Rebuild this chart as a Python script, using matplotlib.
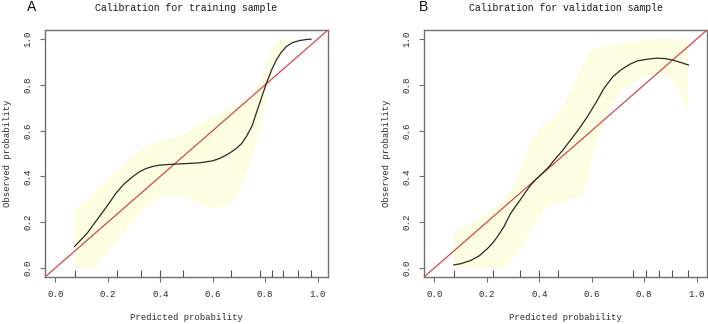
import numpy as np
import matplotlib
matplotlib.use("Agg")
import matplotlib.pyplot as plt

# ---- data ----
# training sample: smoothed calibration curve
train_x = [0.073, 0.12, 0.166, 0.20, 0.23, 0.26, 0.294, 0.32, 0.345, 0.37, 0.396,
           0.447, 0.498, 0.549, 0.60, 0.63, 0.651, 0.67, 0.69, 0.71, 0.728, 0.75,
           0.766, 0.785, 0.805, 0.825, 0.843, 0.86, 0.881, 0.905, 0.932, 0.955, 0.975]
train_y = [0.094, 0.15, 0.222, 0.275, 0.325, 0.365, 0.398, 0.42, 0.434, 0.443, 0.449,
           0.453, 0.456, 0.459, 0.468, 0.48, 0.493, 0.506, 0.522, 0.543, 0.573, 0.62,
           0.675, 0.74, 0.807, 0.866, 0.909, 0.94, 0.968, 0.985, 0.994, 0.998, 1.0]
# training confidence band
train_up_x = [0.073, 0.10, 0.15, 0.20, 0.25, 0.30, 0.35, 0.40, 0.45, 0.50, 0.55, 0.60,
              0.65, 0.70, 0.75, 0.78, 0.80, 0.82, 0.84, 0.86, 0.90, 0.975]
train_up_y = [0.25, 0.28, 0.335, 0.39, 0.445, 0.495, 0.535, 0.555, 0.57, 0.59, 0.63, 0.665,
              0.69, 0.715, 0.75, 0.81, 0.88, 0.94, 0.98, 1.0, 1.0, 1.0]
train_lo_x = [0.073, 0.10, 0.15, 0.20, 0.25, 0.30, 0.35, 0.40, 0.45, 0.50, 0.55, 0.60,
              0.65, 0.70, 0.75, 0.78, 0.80, 0.82, 0.84, 0.86, 0.88, 0.90, 0.93, 0.975]
train_lo_y = [0.0, 0.0, 0.005, 0.07, 0.14, 0.21, 0.27, 0.31, 0.32, 0.31, 0.28, 0.26,
              0.27, 0.33, 0.48, 0.60, 0.72, 0.82, 0.89, 0.94, 0.97, 0.985, 0.995, 1.0]
train_rug = [0.073, 0.234, 0.327, 0.40, 0.487, 0.67, 0.782, 0.825, 0.867, 0.927, 0.975]

# validation sample
val_x = [0.074, 0.10, 0.138, 0.17, 0.201, 0.22, 0.239, 0.265, 0.29, 0.31, 0.329, 0.35,
         0.367, 0.39, 0.413, 0.435, 0.456, 0.49, 0.52, 0.55, 0.583, 0.615, 0.647, 0.68,
         0.711, 0.745, 0.775, 0.81, 0.849, 0.88, 0.912, 0.94, 0.969]
val_y = [0.013, 0.018, 0.032, 0.052, 0.083, 0.106, 0.134, 0.18, 0.237, 0.27, 0.30, 0.335,
         0.362, 0.39, 0.415, 0.44, 0.47, 0.515, 0.56, 0.605, 0.66, 0.72, 0.785, 0.835,
         0.865, 0.89, 0.905, 0.912, 0.917, 0.915, 0.908, 0.898, 0.887]
val_up_x = [0.074, 0.10, 0.15, 0.20, 0.25, 0.30, 0.33, 0.367, 0.40, 0.45, 0.50, 0.55,
            0.58, 0.60, 0.65, 0.70, 0.75, 0.80, 0.85, 0.969]
val_up_y = [0.15, 0.17, 0.20, 0.24, 0.28, 0.36, 0.44, 0.56, 0.61, 0.655, 0.73, 0.85,
            0.93, 0.955, 0.97, 0.98, 0.99, 0.997, 1.0, 1.0]
val_lo_x = [0.074, 0.15, 0.20, 0.27, 0.30, 0.33, 0.39, 0.43, 0.48, 0.56, 0.585, 0.61,
            0.66, 0.71, 0.76, 0.81, 0.85, 0.874, 0.906, 0.938, 0.969]
val_lo_y = [0.0, 0.0, 0.0, 0.0, 0.04, 0.09, 0.205, 0.265, 0.29, 0.31, 0.37, 0.53,
            0.675, 0.775, 0.81, 0.84, 0.85, 0.843, 0.82, 0.77, 0.655]
val_rug = [0.076, 0.224, 0.328, 0.40, 0.472, 0.758, 0.809, 0.856, 0.907, 0.968]

ticks = [0.0, 0.2, 0.4, 0.6, 0.8, 1.0]
tick_labels = ["0.0", "0.2", "0.4", "0.6", "0.8", "1.0"]

MONO = "Liberation Mono"
FRAME = "#707070"
TXT = "#2a2a2a"

fig = plt.figure(figsize=(7.08, 3.24), dpi=100)

def panel(rect, cx, cy, ux, uy, lx, ly, rug, title, letter, letter_x):
    ax = fig.add_axes(rect)
    # confidence band
    bx = np.concatenate([ux, lx[::-1]])
    by = np.concatenate([uy, ly[::-1]])
    ax.fill(bx, by, color="#fdfde2", lw=0, zorder=1)
    # ideal line
    ax.plot([-0.1, 1.1], [-0.1, 1.1], color="#d24a4a", lw=0.9, zorder=3)
    # calibration curve
    ax.plot(cx, cy, color="#2a2a2a", lw=0.9, zorder=4)
    # rug
    ax.vlines(rug, 0, 0.03, transform=ax.get_xaxis_transform(),
              color="#555555", lw=0.8, zorder=5)

    ax.set_xlim(-0.04, 1.04)
    ax.set_ylim(-0.04, 1.04)
    ax.set_xticks(ticks)
    ax.set_yticks(ticks)
    ax.set_xticklabels(tick_labels, fontsize=6.6, family=MONO, color=TXT)
    ax.set_yticklabels(tick_labels, fontsize=6.6, family=MONO, color=TXT,
                       rotation=90, va="center")
    ax.tick_params(axis="both", length=3.6, width=0.8, color=FRAME, direction="out")
    ax.tick_params(axis="x", pad=6)
    ax.tick_params(axis="y", pad=5.5)
    for s in ax.spines.values():
        s.set_color(FRAME)
        s.set_linewidth(1.0)

    ax.set_xlabel("Predicted probability", fontsize=6.4, family=MONO,
                  color=TXT, labelpad=10)
    ax.set_ylabel("Observed probability", fontsize=6.4, family=MONO,
                  color=TXT, labelpad=8.5)
    ax.set_title(title, fontsize=7.1, family=MONO, color="#1a1a1a", pad=14)
    fig.text(letter_x, 1 - 7 / 324, letter, fontsize=10, family="Liberation Sans",
             ha="center", va="center", color="#111111")
    return ax

panel([45 / 708, 47 / 324, 283 / 708, 247 / 324], train_x, train_y,
      train_up_x, train_up_y, train_lo_x, train_lo_y, train_rug,
      "Calibration for training sample", "A", 32 / 708)
panel([424 / 708, 47 / 324, 283 / 708, 247 / 324], val_x, val_y,
      val_up_x, val_up_y, val_lo_x, val_lo_y, val_rug,
      "Calibration for validation sample", "B", 423 / 708)

plt.savefig("out.png", dpi=100)
